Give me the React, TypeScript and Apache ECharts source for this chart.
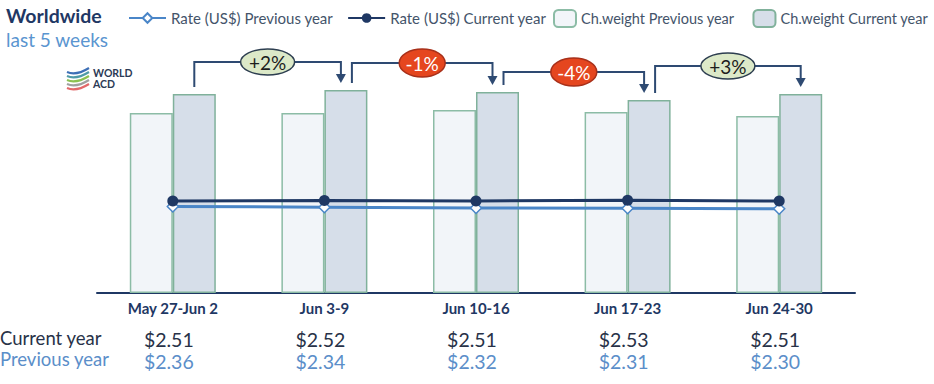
import React, { useEffect, useRef } from "react";
import * as echarts from "echarts";

const categories = ["May 27-Jun 2", "Jun 3-9", "Jun 10-16", "Jun 17-23", "Jun 24-30"];
const weightPrev = [180, 180, 183, 181, 177];
const weightCur = [199, 203, 201, 193, 199];
const ratePrev = [2.36, 2.34, 2.32, 2.31, 2.3];
const rateCur = [2.51, 2.52, 2.51, 2.53, 2.51];
const changeLabels = ["+2%", "-1%", "-4%", "+3%"];

const FONT = "Lato";
const NAVY = "#1f3864";
const LIGHTBLUE = "#4a86c8";

const fmt = (v: number) => "$" + v.toFixed(2);

export default function App() {
  const ref = useRef<HTMLDivElement>(null);
  useEffect(() => {
    const chart = echarts.init(ref.current!, null, { renderer: "svg" });
    const barW = 43;
    const option: any = {
      animation: false,
      textStyle: { fontFamily: FONT },
      grid: { left: 97, right: 79, top: 73, bottom: 91, containLabel: false },
      legend: [
        {
          data: ["Rate (US$) Previous year", "Rate (US$) Current year"],
          left: 128,
          top: 9,
          width: 420,
          padding: 0,
          itemWidth: 37,
          itemHeight: 12,
          itemGap: 14,
          textStyle: { fontFamily: FONT, fontSize: 15, color: "#44546a", lineHeight: 18 },
        },
        {
          data: ["Ch.weight Previous year", "Ch.weight Current year"],
          left: 553,
          top: 9,
          width: 420,
          padding: 0,
          itemWidth: 22,
          itemHeight: 17,
          itemGap: 18,
          textStyle: { fontFamily: FONT, fontSize: 14.5, color: "#44546a", lineHeight: 18 },
        },
      ],
      xAxis: {
        type: "category",
        data: categories,
        boundaryGap: true,
        axisLine: { lineStyle: { color: NAVY, width: 2 } },
        axisTick: { show: false },
        axisLabel: {
          interval: 0,
          margin: 6,
          formatter: (v: string, idx: number) =>
            `{n|${v}}\n{s| }\n{c|${fmt(rateCur[idx])}}\n{p|${fmt(ratePrev[idx])}}`,
          rich: {
            n: { fontFamily: FONT, fontSize: 15, fontWeight: "bold", color: NAVY, lineHeight: 18 },
            s: { fontSize: 6, lineHeight: 11 },
            c: { fontFamily: FONT, fontSize: 19.5, color: "#283248", lineHeight: 22, padding: [0, 8, 0, 0] },
            p: { fontFamily: FONT, fontSize: 19.5, color: "#5b8ec9", lineHeight: 22, padding: [0, 8, 0, 0] },
          },
        },
      },
      yAxis: [
        { type: "value", min: 0, max: 220, show: false, splitLine: { show: false } },
        { type: "value", min: 0, max: 6, show: false, splitLine: { show: false } },
      ],
      series: [
        {
          name: "Ch.weight Previous year",
          type: "bar",
          data: weightPrev,
          barWidth: barW,
          barGap: "0%",
          itemStyle: { color: "#f2f5f9", borderColor: "#8cbca6", borderWidth: 1.5 },
          z: 1,
        },
        {
          name: "Ch.weight Current year",
          type: "bar",
          data: weightCur,
          barWidth: barW,
          barGap: "0%",
          itemStyle: { color: "#d6dee9", borderColor: "#80b19b", borderWidth: 1.5 },
          z: 1,
        },
        {
          name: "Rate (US$) Previous year",
          type: "line",
          yAxisIndex: 1,
          data: ratePrev,
          symbol: "diamond",
          symbolSize: 11,
          lineStyle: { color: LIGHTBLUE, width: 3 },
          itemStyle: { color: "#ffffff", borderColor: LIGHTBLUE, borderWidth: 1.5 },
          z: 3,
        },
        {
          name: "Rate (US$) Current year",
          type: "line",
          yAxisIndex: 1,
          data: rateCur,
          symbol: "circle",
          symbolSize: 11,
          lineStyle: { color: NAVY, width: 3 },
          itemStyle: { color: NAVY },
          z: 4,
        },
      ],
    };
    chart.setOption(option);

    const gfx: any[] = [];
    // Title
    gfx.push({
      type: "text",
      left: 6,
      top: 5,
      style: { text: "Worldwide", font: `bold 19.5px ${FONT}`, fill: NAVY },
    });
    gfx.push({
      type: "text",
      left: 6,
      top: 30,
      style: { text: "last 5 weeks", font: `19px ${FONT}`, fill: "#5a95d0" },
    });
    // Row labels
    gfx.push({
      type: "text",
      left: 0,
      top: 328,
      style: { text: "Current year", font: `18.5px ${FONT}`, fill: "#283248" },
    });
    gfx.push({
      type: "text",
      left: 0,
      top: 349,
      style: { text: "Previous year", font: `18.5px ${FONT}`, fill: "#5b8ec9" },
    });
    // Logo
    const stripeColors = ["#3d6fb6", "#4f9aa8", "#8cc152", "#a0a0a0", "#e2686a"];
    stripeColors.forEach((c, i) => {
      const y = 71 + i * 4;
      gfx.push({
        type: "bezierCurve",
        shape: { x1: 67, y1: y + 1, x2: 89, y2: y - 3, cpx1: 76, cpy1: y + 5 },
        style: { stroke: c, lineWidth: 2.2, fill: null },
      });
    });
    gfx.push({
      type: "text",
      x: 93,
      y: 67,
      style: { text: "WORLD", font: `bold 10.5px ${FONT}`, fill: "#2b3a55" },
    });
    gfx.push({
      type: "text",
      x: 93,
      y: 78,
      style: { text: "ACD", font: `bold 10.5px ${FONT}`, fill: "#2b3a55" },
    });

    // Change connectors
    const rise = [28, 27, 20, 28];
    const px = (i: number, v: number) => chart.convertToPixel({ xAxisIndex: 0, yAxisIndex: 0 }, [i, v]) as number[];
    const lineColor = "#2e4a72";
    for (let i = 0; i < weightCur.length - 1; i++) {
      const a = px(i, weightCur[i]);
      const b = px(i + 1, weightCur[i + 1]);
      const sx = a[0] + barW / 2 + (i === 0 ? 0 : 6);
      const ex = b[0] + barW / 2 - (i + 1 === weightCur.length - 1 ? 0 : 5);
      const sy = a[1] - 7;
      const tip = b[1] - 7;
      const hy = Math.min(a[1], b[1]) - rise[i];
      gfx.push({
        type: "polyline",
        shape: { points: [[sx, sy], [sx, hy], [ex, hy], [ex, tip - 8]] },
        style: { stroke: lineColor, lineWidth: 2, fill: null },
      });
      gfx.push({
        type: "polygon",
        shape: { points: [[ex - 5, tip - 9], [ex + 5, tip - 9], [ex, tip]] },
        style: { fill: lineColor },
      });
      const neg = changeLabels[i].startsWith("-");
      const cx = (sx + ex) / 2;
      gfx.push({
        type: "ellipse",
        shape: { cx, cy: hy, rx: neg ? 23 : 27, ry: neg ? 14 : 13 },
        style: {
          fill: neg ? "#e5461f" : "#dce9c8",
          stroke: neg ? "#a8301a" : "#2d3e50",
          lineWidth: 1.5,
        },
        z: 10,
      });
      gfx.push({
        type: "text",
        x: cx,
        y: hy,
        style: {
          text: changeLabels[i],
          font: `19px ${FONT}`,
          fill: neg ? "#ffffff" : "#1d1d1d",
          align: "center",
          verticalAlign: "middle",
        },
        z: 11,
      });
    }
    chart.setOption({ graphic: gfx });

    return () => chart.dispose();
  }, []);

  return (
    <div
      ref={ref}
      style={{ position: "fixed", left: 0, top: 0, width: 934, height: 384, background: "#ffffff" }}
    />
  );
}
